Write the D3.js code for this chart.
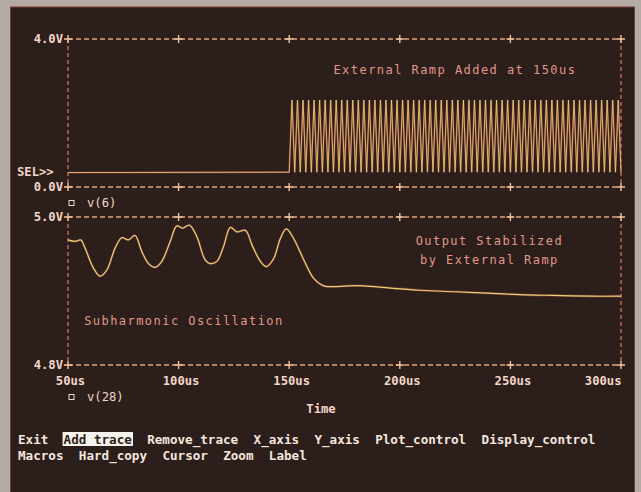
<!DOCTYPE html>
<html>
<head>
<meta charset="utf-8">
<script src="https://cdn.jsdelivr.net/npm/d3@7"></script>
<style>
  html, body { margin: 0; padding: 0; background: #b4aba4; }
  svg { display: block; }
</style>
</head>
<body>
<svg id="chart" width="641" height="492"></svg>
<script>
// ---------------- data ----------------
const xTicks = [50, 100, 150, 200, 250, 300];
const xTickLabels = ["50us", "100us", "150us", "200us", "250us", "300us"];
const xDomain = [50, 300];
const xTitle = "Time";

const topYDomain = [0, 4];
const topYLabels = ["4.0V", "0.0V"];
const botYDomain = [4.8, 5.0];
const botYLabels = ["5.0V", "4.8V"];

const topTraceName = "v(6)";
const botTraceName = "v(28)";
const selLabel = "SEL>>";

// v(6): flat until 150us, then a fast ramp swinging between ~0.40 V and ~2.35 V
const v6Time = [50,
  150, 151.25, 152.5, 153.75, 155, 156.25, 157.5, 158.75, 160, 161.25,
  162.5, 163.75, 165, 166.25, 167.5, 168.75, 170, 171.25, 172.5, 173.75,
  175, 176.25, 177.5, 178.75, 180, 181.25, 182.5, 183.75, 185, 186.25,
  187.5, 188.75, 190, 191.25, 192.5, 193.75, 195, 196.25, 197.5, 198.75,
  200, 201.25, 202.5, 203.75, 205, 206.25, 207.5, 208.75, 210, 211.25,
  212.5, 213.75, 215, 216.25, 217.5, 218.75, 220, 221.25, 222.5, 223.75,
  225, 226.25, 227.5, 228.75, 230, 231.25, 232.5, 233.75, 235, 236.25,
  237.5, 238.75, 240, 241.25, 242.5, 243.75, 245, 246.25, 247.5, 248.75,
  250, 251.25, 252.5, 253.75, 255, 256.25, 257.5, 258.75, 260, 261.25,
  262.5, 263.75, 265, 266.25, 267.5, 268.75, 270, 271.25, 272.5, 273.75,
  275, 276.25, 277.5, 278.75, 280, 281.25, 282.5, 283.75, 285, 286.25,
  287.5, 288.75, 290, 291.25, 292.5, 293.75, 295, 296.25, 297.5, 298.75,
  300];
const v6Vals = [0.39,
  0.40, 2.35, 0.40, 2.35, 0.40, 2.35, 0.40, 2.35, 0.40, 2.35,
  0.40, 2.35, 0.40, 2.35, 0.40, 2.35, 0.40, 2.35, 0.40, 2.35,
  0.40, 2.35, 0.40, 2.35, 0.40, 2.35, 0.40, 2.35, 0.40, 2.35,
  0.40, 2.35, 0.40, 2.35, 0.40, 2.35, 0.40, 2.35, 0.40, 2.35,
  0.40, 2.35, 0.40, 2.35, 0.40, 2.35, 0.40, 2.35, 0.40, 2.35,
  0.40, 2.35, 0.40, 2.35, 0.40, 2.35, 0.40, 2.35, 0.40, 2.35,
  0.40, 2.35, 0.40, 2.35, 0.40, 2.35, 0.40, 2.35, 0.40, 2.35,
  0.40, 2.35, 0.40, 2.35, 0.40, 2.35, 0.40, 2.35, 0.40, 2.35,
  0.40, 2.35, 0.40, 2.35, 0.40, 2.35, 0.40, 2.35, 0.40, 2.35,
  0.40, 2.35, 0.40, 2.35, 0.40, 2.35, 0.40, 2.35, 0.40, 2.35,
  0.40, 2.35, 0.40, 2.35, 0.40, 2.35, 0.40, 2.35, 0.40, 2.35,
  0.40, 2.35, 0.40, 2.35, 0.40, 2.35, 0.40, 2.35, 0.40, 2.35,
  0.40];

// v(28): output voltage, subharmonic oscillation then stabilised
const v28Time = [50, 53.2, 55.8, 57.7, 61.5, 64.5, 67.5, 71.3, 74.3, 77.3, 80.3, 83.4, 86.4, 89.4, 92.4, 96.2, 99.2, 101.9, 104.9, 108.3, 112.0, 114.3, 117.3, 120.3, 123.4, 126.4, 130.2, 133.2, 137.0, 139.7, 143.0, 146.0, 148.7, 152.0, 156.6, 161.1, 165.6, 171.7, 177.7, 183.6, 195.8, 209.4, 225.3, 239.8, 254.7, 269.6, 286.4, 300];
const v28Vals = [4.969, 4.967, 4.969, 4.958, 4.931, 4.920, 4.928, 4.958, 4.972, 4.969, 4.975, 4.953, 4.937, 4.932, 4.940, 4.967, 4.988, 4.985, 4.989, 4.973, 4.942, 4.937, 4.940, 4.960, 4.986, 4.980, 4.982, 4.962, 4.940, 4.933, 4.944, 4.971, 4.984, 4.971, 4.942, 4.917, 4.907, 4.906, 4.907, 4.907, 4.904, 4.901, 4.899, 4.897, 4.895, 4.894, 4.893, 4.893];

const notes = [
  { text: "External Ramp Added at 150us", t: 170, v: 3.16, panel: "top", anchor: "start" },
  { text: "Output Stabilized", t: 240.5, v: 4.9676, panel: "bot", anchor: "middle" },
  { text: "by External Ramp", t: 240.5, v: 4.9419, panel: "bot", anchor: "middle" },
  { text: "Subharmonic Oscillation", t: 57.3, v: 4.8595, panel: "bot", anchor: "start" }
];

const menu1 = ["Exit", "Add_trace", "Remove_trace", "X_axis", "Y_axis", "Plot_control", "Display_control"];
const menu2 = ["Macros", "Hard_copy", "Cursor", "Zoom", "Label"];
const menuSelected = "Add_trace";

// ---------------- drawing ----------------
const svg = d3.select("#chart");
const W = 641, H = 492;

const C = {
  screen: "#2b1e1b",
  bezel: "#b4aba4",
  hgrid: "#e0a474",
  vgrid: "#d4705e",
  plus: "#f2c49a",
  label: "#f2d6c8",
  note: "#e2988a",
  trace: "#e6d27a",
  traceGlow: "#a8443a",
  menu: "#f6e6de"
};

// bezel + screen
svg.append("rect").attr("x", 0).attr("y", 0).attr("width", W).attr("height", H).attr("fill", C.bezel);
svg.append("rect").attr("x", 10.5).attr("y", 7).attr("width", 624).attr("height", 490)
  .attr("fill", C.screen).attr("stroke", "#7c3c32").attr("stroke-width", 1);

const x = d3.scaleLinear().domain(xDomain).range([68, 621]);
const yTop = d3.scaleLinear().domain(topYDomain).range([187, 39]);
const yBot = d3.scaleLinear().domain(botYDomain).range([365, 217]);

const labelFont = "'DejaVu Sans Mono', monospace";

function panel(y, labels) {
  const g = svg.append("g");
  const [y0, y1] = y.range(); // bottom, top
  const x0 = x.range()[0], x1 = x.range()[1];
  [y0, y1].forEach(yy => {
    g.append("line").attr("x1", x0).attr("x2", x1).attr("y1", yy).attr("y2", yy)
      .attr("stroke", C.hgrid).attr("stroke-width", 1.3).attr("stroke-dasharray", "5,3");
  });
  [x0, x1].forEach(xx => {
    g.append("line").attr("x1", xx).attr("x2", xx).attr("y1", y1).attr("y2", y0)
      .attr("stroke", C.vgrid).attr("stroke-width", 1.3).attr("stroke-dasharray", "4,3");
  });
  xTicks.forEach(t => {
    [y0, y1].forEach(yy => {
      const px = x(t);
      g.append("path").attr("d", `M${px - 4},${yy}H${px + 4}M${px},${yy - 4}V${yy + 4}`)
        .attr("stroke", C.plus).attr("stroke-width", 1.4).attr("fill", "none");
    });
  });
  const dom = y.domain();
  [[dom[1], labels[0]], [dom[0], labels[1]]].forEach(([v, txt]) => {
    g.append("text").attr("x", 63).attr("y", y(v)).attr("dy", "0.36em")
      .attr("text-anchor", "end").attr("font-family", labelFont).attr("font-weight", "bold")
      .attr("font-size", 12.2).attr("fill", C.label).text(txt);
  });
  return g;
}

panel(yTop, topYLabels);
panel(yBot, botYLabels);

// traces
const topLine = d3.line().x(d => x(d[0])).y(d => yTop(d[1]));
const v6 = v6Time.map((t, i) => [t, v6Vals[i]]);
svg.append("path").datum(v6).attr("d", topLine).attr("fill", "none")
  .attr("stroke", C.traceGlow).attr("stroke-width", 1.8).attr("opacity", 0.75);
svg.append("path").datum(v6).attr("d", topLine).attr("fill", "none")
  .attr("stroke", C.trace).attr("stroke-width", 0.9).attr("opacity", 0.9);

const botLine = d3.line().x(d => x(d[0])).y(d => yBot(d[1])).curve(d3.curveCatmullRom.alpha(0.5));
const v28 = v28Time.map((t, i) => [t, v28Vals[i]]);
svg.append("path").datum(v28).attr("d", botLine).attr("fill", "none")
  .attr("stroke", C.traceGlow).attr("stroke-width", 2.4).attr("opacity", 0.5);
svg.append("path").datum(v28).attr("d", botLine).attr("fill", "none")
  .attr("stroke", C.trace).attr("stroke-width", 1.2);

// annotations
notes.forEach(n => {
  const y = n.panel === "top" ? yTop : yBot;
  svg.append("text").attr("x", x(n.t)).attr("y", y(n.v)).attr("dy", "0.36em")
    .attr("text-anchor", n.anchor).attr("font-family", labelFont)
    .attr("font-size", 12).attr("letter-spacing", 1.45).attr("fill", C.note).text(n.text);
});

// x axis tick labels (below bottom panel)
const xAxis = d3.axisBottom(x).tickValues(xTicks).tickFormat((d, i) => xTickLabels[i]).tickSize(0).tickPadding(0);
const ax = svg.append("g").attr("transform", "translate(0,376)").call(xAxis);
ax.select(".domain").remove();
ax.selectAll("text").attr("font-family", labelFont).attr("font-weight", "bold")
  .attr("font-size", 12.2).attr("fill", C.label).attr("dx", 2);
ax.selectAll(".tick").filter((d, i) => i === xTicks.length - 1).select("text")
  .attr("text-anchor", "end").attr("dx", 0);

// trace legends
function legend(name, yy) {
  svg.append("rect").attr("x", 69).attr("y", yy - 2.5).attr("width", 5).attr("height", 5)
    .attr("fill", "none").attr("stroke", C.label).attr("stroke-width", 1);
  svg.append("text").attr("x", 87).attr("y", yy).attr("dy", "0.36em")
    .attr("font-family", labelFont).attr("font-size", 12.2).attr("fill", C.label).text(name);
}
legend(topTraceName, 203);
legend(botTraceName, 397);

// SEL>>
svg.append("text").attr("x", 17).attr("y", 172).attr("dy", "0.36em")
  .attr("font-family", labelFont).attr("font-weight", "bold").attr("font-size", 12.2)
  .attr("fill", C.label).text(selLabel);

// x title
svg.append("text").attr("x", 321).attr("y", 409).attr("dy", "0.36em").attr("text-anchor", "middle")
  .attr("font-family", labelFont).attr("font-weight", "bold").attr("font-size", 12.2)
  .attr("fill", C.label).text(xTitle);

// menu
const cw = 7.6;
function menuLine(items, yy) {
  let col = 0;
  items.forEach(item => {
    const px = 18 + col * cw;
    const sel = item === menuSelected;
    if (sel) {
      svg.append("rect").attr("x", px - 1).attr("y", yy - 7).attr("width", item.length * cw + 2)
        .attr("height", 14).attr("fill", "#f7f1ec");
    }
    svg.append("text").attr("x", px).attr("y", yy).attr("dy", "0.36em")
      .attr("font-family", labelFont).attr("font-weight", "bold").attr("font-size", 12.6)
      .attr("fill", sel ? "#2b1e1b" : C.menu).text(item);
    col += item.length + 2;
  });
}
menuLine(menu1, 439);
menuLine(menu2, 455);
</script>
</body>
</html>
